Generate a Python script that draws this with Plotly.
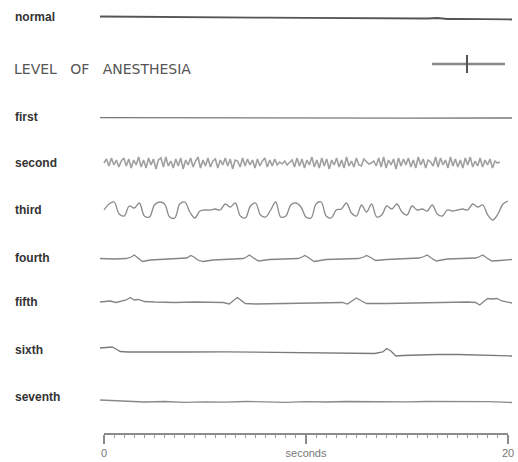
import numpy as np
import plotly.graph_objects as go

# ---------------- data (deflections, arbitrary units; + = up) ----------------
labels = ["normal", "first", "second", "third", "fourth", "fifth", "sixth", "seventh"]

normal_t = [-0.2, 2, 5, 8, 10, 13, 16, 16.5, 17, 17.5, 20.2]
normal_v = [1.5, 1, 0.8, 0.3, 0.2, -0.3, -0.5, 0, -1, -0.8, -1.5]

first_t = [-0.2, 5, 10, 15, 20.2]
first_v = [0.3, 0, 0.2, -0.2, 0]

# second: dense fast activity, sampled every 1/8 s
second_v = [
    0, 4, -3, 5, -2, 3, -4, 2,
    5, -3, 4, -5, 3, -2, 6, -4,
    3, -5, 5, -2, 4, -6, 3, 5,
    -4, 6, -3, 2, -5, 4, -3, 5,
    -6, 3, -2, 5, -4, 2, 6, -5,
    3, -3, 5, -4, 2, 4, -5, 3,
    -2, 5, -3, 4, -6, 3, 2, -4,
    5, -3, 4, -2, 3, -5, 4, -3,
    2, 5, -4, 3, -3, 4, -2, 1,
    -1, 2, -2, 1, 3, -4, 5, -3,
    4, -5, 3, -2, 6, -4, 3, -5,
    5, -3, 4, -6, 3, -2, 5, -4,
    3, -5, 6, -3, 2, -4, 5, -2,
    -3, 4, 1, -1, 0, 2, -3, 5,
    -4, 6, -5, 3, -2, 4, -6, 5,
    -3, 4, -2, 5, -4, 3, -5, 6,
    -2, 4, -5, 3, 1, -3, 6, -4,
    5, -2, 3, -5, 6, -3, 4, -4,
    3, -5, 5, -2, 6, -4, 2, -3,
    5, -4, 3, -2, 4, -5, 2, 0,
    1,
]
second_t0, second_t1 = 0.0, 19.6

# third: large slow waves, sampled every 1/4 s
third_v = [
    0, 6, 8, -4, -6, 4, 2, 7, -6, -7, 5, 8, 6, -7, -8, 6,
    8, -2, -8, -1, 0, 0, 1, 0, 6, 3, 7, -6, -8, 4, 7, -5,
    -7, 0, 8, -7, -6, 5, 7, 3, -7, -8, 6, 8, -6, -8, 0, 1,
    7, -3, -6, 5, -2, 6, -7, -5, 4, 1, 6, -2, -5, 4, 0, 1,
    -1, 5, -4, -6, 0, -1, 0, 1, 0, 6, 3, 5, -5, -10, -4, 6,
    9,
]
third_t0, third_t1 = 0.0, 20.0

fourth_t = [-0.2, 0.5, 1.1, 1.35, 1.5, 1.7, 1.9, 2.3, 3.0, 3.6,
            4.1, 4.3, 4.45, 4.65, 4.9, 5.4, 6.2, 6.9,
            7.05, 7.2, 7.4, 7.65, 8.2, 8.9, 9.6,
            9.8, 9.95, 10.15, 10.4, 11.0, 11.8, 12.6,
            12.85, 13.0, 13.2, 13.45, 14.0, 14.8, 15.6,
            15.85, 16.0, 16.2, 16.45, 17.0, 17.8, 18.4,
            18.6, 18.75, 18.95, 19.2, 19.6, 20.2]
fourth_v = [0.5, 0, 0.5, 2, 4, 1, -2.5, -1, 0, 0.5,
            1, 3.5, 2, -1, -2.5, -1, 0, 0.5,
            2, 4, 1, -2, -0.5, 0, 0.5,
            2, 3.5, 1, -2.5, -0.5, 0, 0.5,
            2, 3.5, 1.5, -1.5, -0.5, 0, 1,
            2.5, 4, 1, -2, 0, 0.5, 1,
            2.5, 4, 1, -2, -1.5, -0.5]

fifth_t = [-0.2, 0.3, 0.6, 0.9, 1.1, 1.3, 1.5, 1.7, 2.0, 2.5, 3.5, 4.5, 5.5, 5.9,
           6.2, 6.4, 6.6, 6.8, 7.0, 7.5, 8.5, 9.5, 10.5, 11.3, 11.8, 12.05, 12.3,
           12.5, 12.75, 13.0, 14, 15, 16, 17, 18, 18.4, 18.6, 18.8, 19.0, 19.2,
           19.45, 19.7, 20.2]
fifth_v = [0, 1, -0.5, 1, 2, 4.5, 2, 2.5, 0.5, 0, -0.5, 0, 0, -0.5,
           -2, 1, 4.5, 1.5, -1.5, -2, -1.5, -1, -0.5, 0, -0.5, -2, 1.5,
           4, 1, -1.5, -1.5, -1, -0.5, 0, 0, -0.5, -3, 0.5, 3.5, 3,
           3.5, 1, -1]

sixth_t = [-0.2, 0.2, 0.4, 0.6, 0.8, 1.2, 2.5, 4, 6, 8, 10, 12, 13.4, 13.8,
           14.0, 14.2, 14.45, 14.8, 15.5, 16.5, 17.5, 18.5, 19.5, 20.2]
sixth_v = [4, 4.5, 5, 3, 0.5, 0, 0.3, 0, 0.2, -0.3, -0.5, -1, -1.5, 0,
           3.5, 1, -4, -3.5, -3, -2.5, -2.5, -3, -3.5, -4]

seventh_t = [-0.2, 0.3, 1, 2, 3, 4, 5, 6, 7, 8, 9, 10, 11, 12, 13, 14, 15,
             16, 17, 18, 19, 20.2]
seventh_v = [2, 1.5, 0.5, 0, 0.5, -0.3, 0.2, -0.2, 0.5, 0, -0.3, 0.3, 0,
             0.5, 0.3, 0.8, 0.2, 0.5, 0.3, 0.8, 0.3, -0.5]

scale_ticks = [0, 10, 20]
scale_text = ["0", "seconds", "20"]

# ---------------- layout constants ----------------
W, H = 518, 462
X0_PX, X20_PX = 104, 508
span = 20 * W / (X20_PX - X0_PX)
xa = -X0_PX * span / W
xr = [xa, xa + span]

baselines = {"normal": 18, "first": 118, "second": 163, "third": 210,
             "fourth": 259, "fifth": 302, "sixth": 352, "seventh": 402}
label_y = {"normal": 17, "first": 117, "second": 163, "third": 210,
           "fourth": 258, "fifth": 302, "sixth": 350, "seventh": 397}
colors = {"normal": "#555555", "first": "#777777", "second": "#a0a0a0",
          "third": "#8a8a8a", "fourth": "#858585", "fifth": "#858585",
          "sixth": "#7a7a7a", "seventh": "#8a8a8a"}
shapes = {"third": "spline"}

series = {
    "normal": (normal_t, normal_v),
    "first": (first_t, first_v),
    "second": (list(np.linspace(second_t0, second_t1, len(second_v))), second_v),
    "third": (list(np.linspace(third_t0, third_t1, len(third_v))), third_v),
    "fourth": (fourth_t, fourth_v),
    "fifth": (fifth_t, fifth_v),
    "sixth": (sixth_t, sixth_v),
    "seventh": (seventh_t, seventh_v),
}

fig = go.Figure()
for name in labels:
    t, v = series[name]
    y = [baselines[name] - vv for vv in v]
    w = 1.8 if name == "normal" else (1.6 if name == "second" else 1.3)
    fig.add_trace(go.Scatter(x=t, y=y, mode="lines", name=name,
                             line=dict(color=colors[name], width=w,
                                       shape=shapes.get(name, "linear")),
                             hoverinfo="skip", showlegend=False))

# invisible trace for the time-scale axis
fig.add_trace(go.Scatter(x=[0, 20], y=[440, 440], xaxis="x2", mode="lines",
                         line=dict(width=0), hoverinfo="skip", showlegend=False))

for name in labels:
    fig.add_annotation(x=13 / W, xref="paper", y=label_y[name], yref="y",
                       text="<b>%s</b>" % name, showarrow=False, xanchor="left",
                       font=dict(family="Liberation Sans", size=12, color="#333333"))

fig.add_annotation(x=12 / W, xref="paper", y=69, yref="y",
                   text="LEVEL   OF   ANESTHESIA", showarrow=False, xanchor="left",
                   font=dict(family="DejaVu Sans", size=14, color="#555555"))

# calibration mark
fig.add_shape(type="line", xref="paper", yref="y", x0=432 / W, x1=505 / W, y0=64, y1=64,
              line=dict(color="#888888", width=2.5))
fig.add_shape(type="line", xref="paper", yref="y", x0=467 / W, x1=467 / W, y0=55, y1=73,
              line=dict(color="#555555", width=2))

fig.update_layout(
    width=W, height=H,
    margin=dict(l=0, r=0, t=0, b=0),
    font=dict(color="#777777"),
    paper_bgcolor="white", plot_bgcolor="rgba(0,0,0,0)",
    xaxis=dict(range=xr, visible=False, domain=[0, 1], automargin=False),
    yaxis=dict(range=[H, 0], visible=False, domain=[0, 1], automargin=False),
    xaxis2=dict(range=[0, 20], domain=[X0_PX / W, X20_PX / W], anchor="free",
                position=1 - 434 / H, side="bottom", automargin=False,
                showline=True, linecolor="#8a8a8a", linewidth=1.5,
                showgrid=False, zeroline=False,
                tickvals=scale_ticks, ticktext=scale_text,
                ticks="outside", ticklen=9, tickwidth=1.5, tickcolor="#8a8a8a",
                minor=dict(dtick=0.5, ticks="outside", ticklen=3, tickcolor="#9a9a9a",
                           tickwidth=1, showgrid=False),
                tickfont=dict(family="Liberation Sans", size=11, color="#777777")),
)

fig.write_html("out.html")
